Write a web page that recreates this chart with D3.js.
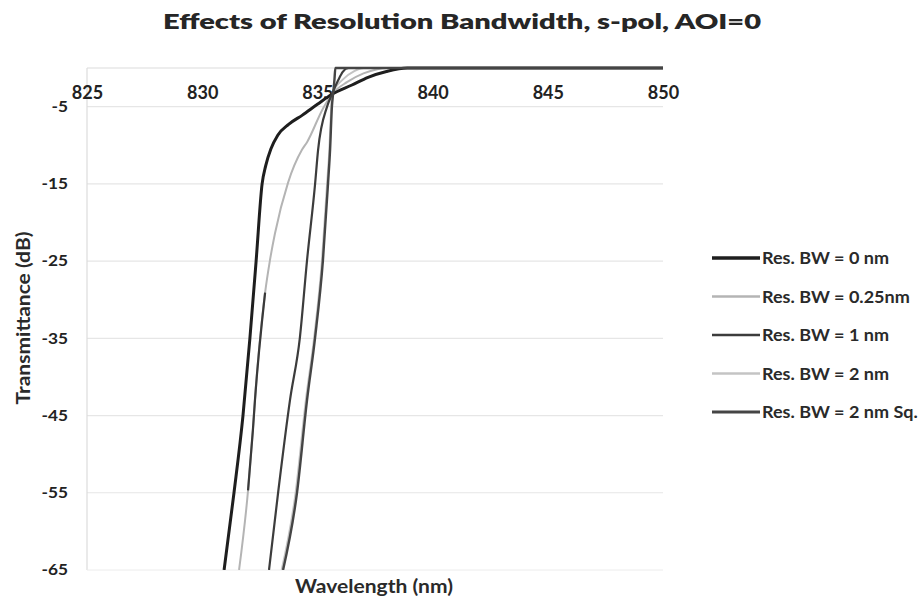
<!DOCTYPE html>
<html>
<head>
<meta charset="utf-8">
<script src="https://cdn.jsdelivr.net/npm/d3@7"></script>
<style>
  html, body { margin: 0; padding: 0; background: #ffffff; }
  svg { display: block; font-family: Lato, "Open Sans", sans-serif; }
</style>
</head>
<body>
<svg id="chart" width="922" height="600"></svg>
<script>
// ---- Data ----
const title = "Effects of Resolution Bandwidth, s-pol, AOI=0";
const xLabel = "Wavelength (nm)";
const yLabel = "Transmittance (dB)";
const xTicks = [825, 830, 835, 840, 845, 850];
const yTicks = [-65, -55, -45, -35, -25, -15, -5];
const seriesNames = ["Res. BW = 0 nm", "Res. BW = 0.25nm", "Res. BW = 1 nm", "Res. BW = 2 nm", "Res. BW = 2 nm Sq."];

// wavelength (nm), transmittance (dB)
const bw0 = [[830.95,-65],[831.38,-55],[831.77,-45],[832.07,-35],[832.34,-25],[832.60,-15],[832.76,-12.6],[832.98,-10.5],[833.28,-8.7],[833.75,-7.3],[834.35,-6.1],[835.0,-4.7],[835.63,-3.4],[836.5,-2.2],[837.2,-1.2],[838.0,-0.45],[838.9,0],[850,0]];
const bw025 = [[831.60,-65],[831.99,-54.7],[832.20,-46.9],[832.29,-43],[832.73,-29.1],[832.94,-24.9],[833.16,-21.4],[833.72,-14.9],[834.33,-10.6],[834.55,-9.6],[835.25,-5.2],[835.63,-3.4],[836.3,-1.8],[837.0,-0.7],[837.6,-0.15],[838.0,0],[850,0]];
const bw1 = [[832.90,-65],[833.29,-55.1],[833.81,-43],[834.24,-34.9],[834.55,-24.9],[834.90,-15],[835.03,-10.6],[835.42,-5],[835.63,-3.4],[835.9,-1.6],[836.1,-0.5],[836.35,0],[850,0]];
const bw2 = [[833.45,-65],[834.05,-55.1],[834.5,-43],[834.86,-34.9],[835.2,-24.9],[835.42,-15],[835.52,-10.6],[835.6,-5],[835.63,-3.4],[836.1,-1.5],[836.6,-0.4],[837.0,0],[850,0]];
const bw2sq = [[833.51,-65],[834.11,-55.1],[834.55,-43],[834.90,-34.9],[835.24,-24.9],[835.46,-15],[835.55,-10.6],[835.63,-5],[835.68,-3.4],[835.74,-1.5],[835.78,0],[850,0]];

const seriesData = [bw0, bw025, bw1, bw2, bw2sq];
const seriesColors = ["#1e1e1e", "#b4b4b4", "#3c3c3c", "#c4c4c4", "#454545"];
const seriesWidths = [3, 2, 2.2, 2, 2.4];

// ---- Layout ----
const svg = d3.select("#chart");
const x = d3.scaleLinear().domain([825, 850]).range([87, 663]);
const y = d3.scaleLinear().domain([-65, 0]).range([570, 68]);

// horizontally stretch a text to a given width (the reference is a wide scan)
function fitWidth(sel, w) {
  sel.attr("textLength", w).attr("lengthAdjust", "spacingAndGlyphs");
}
function stretch(sel, k) {
  sel.each(function () {
    const t = this.getComputedTextLength();
    d3.select(this).attr("textLength", t * k).attr("lengthAdjust", "spacingAndGlyphs");
  });
}

// gridlines
svg.append("g").selectAll("line")
  .data(yTicks.filter(v => v !== -65))
  .join("line")
  .attr("x1", x(825)).attr("x2", x(850))
  .attr("y1", d => y(d)).attr("y2", d => y(d))
  .attr("stroke", "#e6e6e6").attr("stroke-width", 1.2);

// plot frame (light)
svg.append("line").attr("x1", x(825)).attr("x2", x(825)).attr("y1", y(0)).attr("y2", y(-65))
  .attr("stroke", "#dcdcdc").attr("stroke-width", 1.2);
svg.append("line").attr("x1", x(825)).attr("x2", x(850)).attr("y1", y(0)).attr("y2", y(0))
  .attr("stroke", "#dcdcdc").attr("stroke-width", 1.2);
svg.append("line").attr("x1", x(825)).attr("x2", x(850)).attr("y1", y(-65)).attr("y2", y(-65))
  .attr("stroke", "#ececec").attr("stroke-width", 1);

// axes
const fmt = d => String(d);
const xAxis = svg.append("g").attr("transform", `translate(0,${y(0)})`)
  .call(d3.axisBottom(x).tickValues(xTicks).tickSize(0).tickPadding(18).tickFormat(fmt));
xAxis.select(".domain").remove();
xAxis.selectAll("text").attr("font-size", 18).attr("font-weight", 700).attr("fill", "#222")
  .attr("font-family", "Lato, sans-serif");

const yAxis = svg.append("g").attr("transform", `translate(${x(825)},0)`)
  .call(d3.axisLeft(y).tickValues(yTicks).tickSize(0).tickPadding(19).tickFormat(fmt));
yAxis.select(".domain").remove();
yAxis.selectAll("text").attr("font-size", 15).attr("font-weight", 700).attr("fill", "#222")
  .attr("font-family", "Lato, sans-serif").call(stretch, 1.15);

// clip
svg.append("clipPath").attr("id", "plotclip").append("rect")
  .attr("x", x(825)).attr("y", y(0) - 3).attr("width", x(850) - x(825)).attr("height", y(-65) - y(0) + 3);

const line = d3.line().x(d => x(d[0])).y(d => y(d[1])).curve(d3.curveMonotoneX);

const plot = svg.append("g").attr("clip-path", "url(#plotclip)");
// draw order: light ones first, then dark
const order = [1, 3, 0, 2, 4];
order.forEach(i => {
  plot.append("path").datum(seriesData[i])
    .attr("fill", "none")
    .attr("stroke", seriesColors[i])
    .attr("stroke-width", seriesWidths[i])
    .attr("stroke-linejoin", "round")
    .attr("d", line);
});
// darker overprint seen on the 0.25nm trace between about -29 and -55 dB
plot.append("path").datum(bw025.filter(d => d[1] <= -29 && d[1] >= -55))
  .attr("fill", "none").attr("stroke", "#3a3a3a").attr("stroke-width", 2.2)
  .attr("d", line);

// title
svg.append("text").attr("x", 462).attr("y", 29).attr("text-anchor", "middle")
  .attr("font-size", 21).attr("font-weight", 800).attr("fill", "#262626").text(title)
  .call(fitWidth, 598);

// axis titles
svg.append("text").attr("x", 374).attr("y", 593).attr("text-anchor", "middle")
  .attr("font-size", 19.5).attr("font-weight", 700).attr("fill", "#2a2a2a").text(xLabel)
  .call(fitWidth, 158);
svg.append("text").attr("transform", `translate(30,318) rotate(-90)`).attr("text-anchor", "middle")
  .attr("font-size", 18).attr("font-weight", 700).attr("fill", "#2a2a2a").text(yLabel)
  .call(fitWidth, 173);

// legend
const legY0 = 258, legStep = 38.5;
const leg = svg.append("g");
seriesNames.forEach((name, i) => {
  const yy = legY0 + i * legStep;
  leg.append("line").attr("x1", 712).attr("x2", 760).attr("y1", yy).attr("y2", yy)
    .attr("stroke", seriesColors[i]).attr("stroke-width", seriesWidths[i] + 0.5);
  leg.append("text").attr("x", 762).attr("y", yy).attr("dy", "0.36em")
    .attr("font-size", 17).attr("font-weight", 700).attr("fill", "#2a2a2a").text(name)
    .call(stretch, 1.06);
});
</script>
</body>
</html>
